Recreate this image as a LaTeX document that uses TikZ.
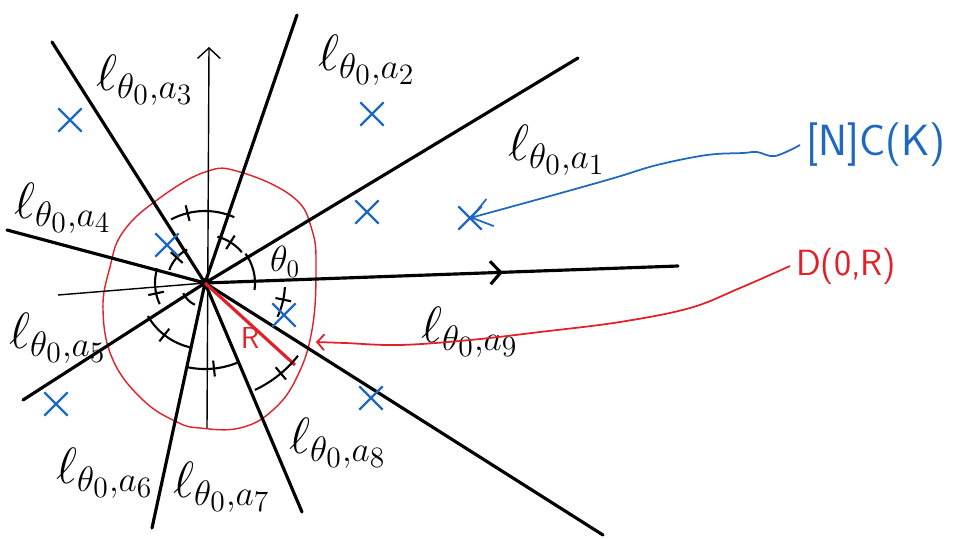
\documentclass[tikz,border=0pt]{standalone}
\usepackage{amssymb}
\usepackage{amsmath}
\usepackage{xcolor}
\usepackage{tikz}
\usetikzlibrary{arrows.meta,shapes.misc,decorations.markings}

\definecolor{penblue}{RGB}{30,105,190}
\definecolor{penred}{RGB}{226,32,40}

\tikzset{
  ray/.style={line width=1.8pt, line cap=round},
  axisline/.style={line width=0.8pt},
  anglearc/.style={line width=1.2pt},
  circlepen/.style={penred, line width=0.8pt},
  crossmark/.style={cross out, draw=penblue, line width=1.3pt, minimum size=12pt, inner sep=0pt},
  linelabel/.style={scale=1.4, font=\huge, inner sep=1pt},
  midarrow/.style={postaction={decorate, decoration={markings,
      mark=at position 0.63 with {\arrow{Straight Barb[length=6pt,width=13pt]}}}}},
}

\begin{document}
\begin{tikzpicture}[x=0.02cm, y=-0.02cm]
\useasboundingbox (0,0) rectangle (959,538);
%
\coordinate (O) at (205,283);
\coordinate (e1) at (578,58);
\coordinate (e2) at (297,15);
\coordinate (e3) at (52,42);
\coordinate (e4) at (7,230);
\coordinate (e5) at (23,400);
\coordinate (e6) at (152,528);
\coordinate (e7) at (302,512);
\coordinate (e8) at (603,535);
\coordinate (xr) at (678,266);
\coordinate (xl) at (58,295);
\coordinate (yt) at (209,47);
\coordinate (yb) at (207,428);
\coordinate (rend) at (295,365);
\coordinate (hit) at (316,342);
%
% disc
\draw[circlepen] plot[smooth cycle, tension=0.7] coordinates {(157,200) (205,172) (240,172) (293,197) (312,230) (316,270) (312,330) (297,377) (273,410) (240,428) (200,428) (177,422) (143,400) (113,360) (103,310) (110,267) (123,232)};
%
% axes
\draw[axisline, -{Straight Barb[length=6pt,width=13pt]}] (yb) -- (yt);
\draw[axisline] (xl) -- (O);
\draw[ray, midarrow] (O) -- (xr);
%
% half-lines
\draw[ray] (O) -- (e1) (O) -- (e2) (O) -- (e3) (O) -- (e4)
           (O) -- (e5) (O) -- (e6) (O) -- (e7) (O) -- (e8);
\fill (O) circle (5);
\draw[penred, line width=1.8pt] (O) -- (rend);
%
% equal angles
\draw[anglearc] ([shift={(8:50)}]O) arc[start angle=8, end angle=-36, radius=50];
\draw[anglearc] ([shift={(-40:48)}]O) arc[start angle=-40, end angle=-75, radius=48];
\draw[anglearc] ([shift={(-58:40)}]O) -- ([shift={(-58:56)}]O);
\draw[anglearc] ([shift={(-66:72)}]O) arc[start angle=-66, end angle=-118, radius=72];
\draw[anglearc] ([shift={(-104:64)}]O) -- ([shift={(-104:80)}]O);
\draw[anglearc] ([shift={(-118:38)}]O) arc[start angle=-118, end angle=-160, radius=38];
\draw[anglearc] ([shift={(-138:30)}]O) -- ([shift={(-138:46)}]O);
\draw[anglearc] ([shift={(-163:50)}]O) arc[start angle=-163, end angle=-205, radius=50];
\draw[anglearc] ([shift={(-192:42)}]O) -- ([shift={(-192:58)}]O);
\draw[anglearc] ([shift={(-205:24)}]O) arc[start angle=-205, end angle=-245, radius=24];
\draw[anglearc] ([shift={(-210:66)}]O) arc[start angle=-210, end angle=-258, radius=66];
\draw[anglearc] ([shift={(-232:58)}]O) -- ([shift={(-232:74)}]O);
\draw[anglearc] ([shift={(-258:86)}]O) arc[start angle=-258, end angle=-292, radius=86];
\draw[anglearc] ([shift={(-276:78)}]O) -- ([shift={(-276:94)}]O);
\draw[anglearc] ([shift={(-295:118)}]O) arc[start angle=-295, end angle=-322, radius=118];
\draw[anglearc] ([shift={(-310:110)}]O) -- ([shift={(-310:126)}]O);
\draw[anglearc] ([shift={(25:80)}]O) arc[start angle=25, end angle=3, radius=80];
\draw[anglearc] ([shift={(12:72)}]O) -- ([shift={(12:88)}]O);
%
% labels of the half-lines
\node[linelabel] (l1) at (557,150) {$\ell_{\theta_0,a_1}$};
\node[linelabel] (l2) at (367,60) {$\ell_{\theta_0,a_2}$};
\node[linelabel] (l3) at (145,80) {$\ell_{\theta_0,a_3}$};
\node[linelabel] (l4) at (63,208) {$\ell_{\theta_0,a_4}$};
\node[linelabel] (l5) at (58,338) {$\ell_{\theta_0,a_5}$};
\node[linelabel] (l6) at (105,473) {$\ell_{\theta_0,a_6}$};
\node[linelabel] (l7) at (222,487) {$\ell_{\theta_0,a_7}$};
\node[linelabel] (l8) at (338,443) {$\ell_{\theta_0,a_8}$};
\node[linelabel] (l9) at (470,332) {$\ell_{\theta_0,a_9}$};
\node[font=\huge] (th) at (285,262) {$\theta_0$};
\node[penred, font=\LARGE\sffamily] (rr) at (250,338) {R};
%
% lattice points
\node[crossmark] (x1) at (70,120) {};
\node[crossmark] (x2) at (372,114) {};
\node[crossmark] (x3) at (367,212) {};
\node[crossmark] (x4) at (470,218) {};
\node[crossmark] (x5) at (167,245) {};
\node[crossmark] (x6) at (284,315) {};
\node[crossmark] (x7) at (56,404) {};
\node[crossmark] (x8) at (371,398) {};
%
% legends
\node[penblue, font=\Huge\sffamily, anchor=west] (nck) at (800,145) {[N]C(K)};
\node[penred, font=\huge\sffamily, anchor=west] (d0r) at (790,266) {D(0,R)};
\draw[penblue, line width=1pt, -{Straight Barb[length=11pt,width=16pt]}]
  plot[smooth, tension=0.6] coordinates {(nck.west) (775,156) (757,152) (743,153) (707,155) (657,165) (614,178) (543,198) (x4.center)};
\draw[penred, line width=1pt, -{Straight Barb[length=4pt,width=9pt]}]
  plot[smooth, tension=0.6] coordinates {(d0r.west) (740,288) (690,308) (620,322) (540,332) (470,340) (400,345) (345,343) (hit)};
\end{tikzpicture}
\end{document}
